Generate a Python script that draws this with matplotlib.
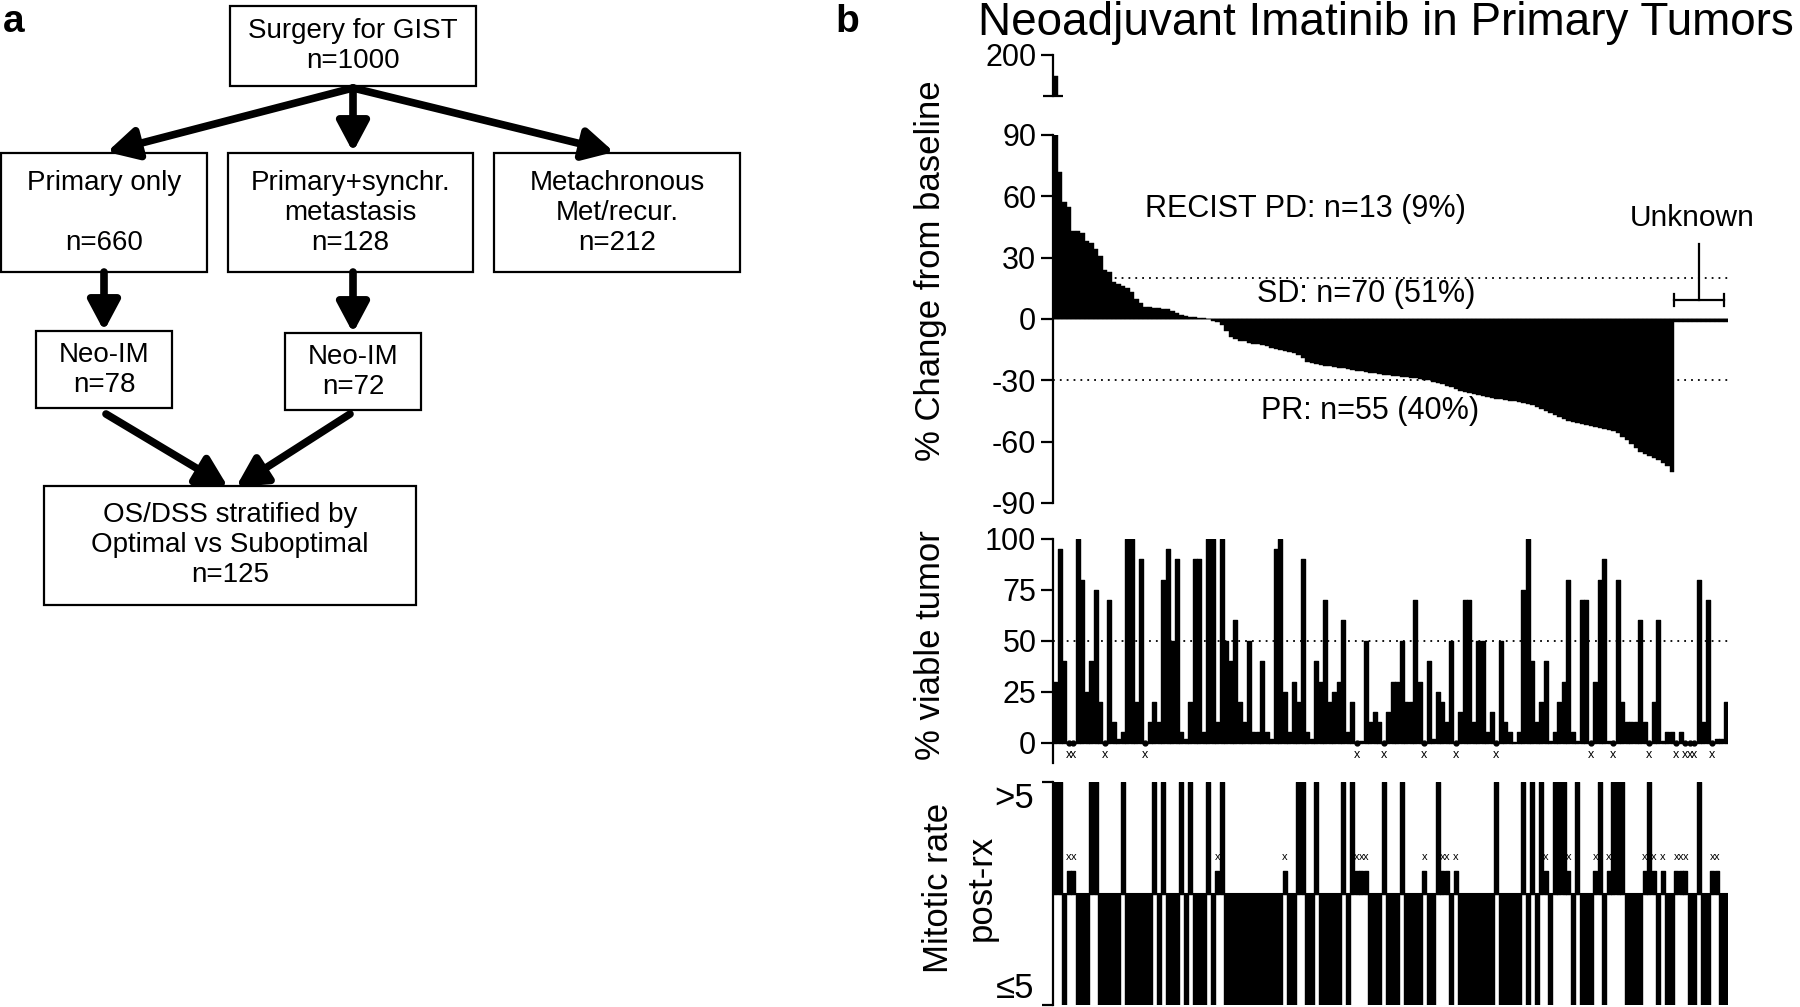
import matplotlib
matplotlib.use("Agg")
import matplotlib.pyplot as plt
from matplotlib.patches import Rectangle, FancyArrowPatch

plt.rcParams['font.family'] = ['Liberation Sans', 'DejaVu Sans']
plt.rcParams['axes.unicode_minus'] = False

W, H = 1800, 1007

# ---------------- data ----------------
# panel a flow chart
box_labels = ["Surgery for GIST\nn=1000",
              "Primary only\n\nn=660",
              "Primary+synchr.\nmetastasis\nn=128",
              "Metachronous\nMet/recur.\nn=212",
              "Neo-IM\nn=78",
              "Neo-IM\nn=72",
              "OS/DSS stratified by\nOptimal vs Suboptimal\nn=125"]

# panel b: % change from baseline, sorted (138 with RECIST, 12 unknown)
pct_change = [150, 72, 57, 55, 43, 43, 42, 38, 37, 34, 31, 24, 23,
              18, 17, 16, 15, 13, 10, 8, 6, 6, 5.5, 5.5, 5, 5, 4, 3, 2, 1.5, 1, 1, 0.5, 0.5, 0,
              -1, -1.5, -3, -6, -9, -10,
              -11, -11, -11.5, -12, -12, -12.5, -13,
              -14, -14.5, -15, -15.5, -16, -16.5, -17.5, -19,
              -21, -21.5, -22,
              -22.5, -23, -23, -23.5, -24, -24, -24.5, -25,
              -25.5, -25.5, -26, -26.5, -26.5, -27, -27.5, -27.5, -28, -28,
              -28.5, -28.5, -29, -29, -29.5, -29.8,
              -30, -31, -31.5, -32, -33, -33.5, -34, -35,
              -35.5, -36, -36.5, -37, -37.5, -38, -38.5,
              -39, -39, -39.5, -40, -40, -40.5, -41, -41.5,
              -42, -43, -44, -45, -46,
              -47, -48, -49, -50, -50.5, -51,
              -51.5, -52, -52.5, -53, -53.5, -54, -54.5, -55,
              -56, -57.5, -59, -61, -63, -65, -66, -67, -68,
              -69, -70.5, -72, -75]
unknown_change = [-1.5, -1.5, -1.5, -1.5, -1.5, -1.5, -1.5, -1.5, -1.5, -1.5, -1.5, -1.5]
response_labels = ["RECIST PD: n=13 (9%)", "SD: n=70 (51%)", "PR: n=55 (40%)"]

# % viable tumor (None = not assessed, marked with x)
viable = [30, 95, 40, None, None, 100, 80, 25, 40, 75,
          20, None, 70, 10, 2, 5, 100, 100, 20, 90,
          None, 10, 20, 10, 80, 95, 50, 90, 5, 2,
          20, 90, 90, 5, 100, 100, 10, 100, 50, 40,
          60, 20, 10, 50, 5, 5, 40, 5, 2, 95,
          100, 25, 5, 30, 20, 90, 5, 2, 40, 30,
          70, 20, 25, 30, 60, 5, 20, None, 1, 50,
          10, 15, 10, None, 15, 30, 30, 50, 20, 20,
          70, 30, None, 40, 2, 25, 20, 10, 50, None,
          15, 70, 70, 10, 50, 50, 5, 15, None, 50,
          10, 5, 0.5, 5, 75, 100, 40, 10, 20, 40,
          1, 5, 20, 30, 80, 5, 1, 70, 70, None,
          30, 80, 90, 1, None, 80, 20, 10, 10, 10,
          60, 10, None, 20, 60, 1, 5, 5, None, 5,
          None, None, None, 80, 10, 70, None, 2, 2, 20]

# mitotic rate post-rx: 1 = >5, -1 = <=5, 0 = unknown (x)
mitotic = [1, 1, -1, 0, 0, -1, -1, -1, 1, 1,
           -1, -1, -1, -1, -1, 1, -1, -1, -1, -1,
           -1, -1, 1, -1, 1, -1, -1, -1, 1, -1,
           1, -1, -1, -1, 1, -1, 0, 1, -1, -1,
           -1, -1, -1, -1, -1, -1, -1, -1, -1, -1,
           -1, 0, -1, -1, 1, 1, -1, -1, 1, -1,
           -1, -1, -1, -1, 1, -1, 1, 0, 0, 0,
           -1, -1, -1, 1, -1, -1, -1, 1, -1, -1,
           -1, -1, 0, -1, -1, 1, 0, 0, -1, 0,
           -1, -1, -1, -1, -1, -1, -1, -1, 1, -1,
           -1, -1, -1, -1, 1, -1, 1, -1, 1, 0,
           -1, 1, 1, 1, 0, -1, 1, -1, -1, -1,
           0, 1, -1, 0, 1, 1, 1, -1, -1, -1,
           -1, 0, 1, 0, -1, 0, -1, -1, 0, 0,
           0, -1, -1, 1, -1, -1, 0, 0, -1, -1]
mitotic_ticks = ['≤5', '>5']


def rect(x0, y0, x1, y1):
    return [x0 / W, 1 - y1 / H, (x1 - x0) / W, (y1 - y0) / H]


fig = plt.figure(figsize=(18, 10.07), dpi=100)

# ---------------- panel a ----------------
axa = fig.add_axes([0, 0, 1, 1])
axa.set_xlim(0, W)
axa.set_ylim(H, 0)
axa.axis('off')

boxes = [(230, 6, 476, 86), (1, 153, 207, 272), (228, 153, 473, 272),
         (494, 153, 740, 272), (36, 331, 172, 408), (285, 333, 421, 410),
         (44, 486, 416, 605)]
for (x0, y0, x1, y1), label in zip(boxes, box_labels):
    axa.add_patch(Rectangle((x0, y0), x1 - x0, y1 - y0, fill=False, lw=1.6, ec='black'))
    axa.text((x0 + x1) / 2, (y0 + y1) / 2, label, ha='center', va='center',
             fontsize=20, linespacing=1.2)

arrows = [((353, 88), (107, 152)), ((353, 88), (353, 152)), ((353, 88), (614, 152)),
          ((104, 272), (104, 331)), ((353, 272), (353, 333)),
          ((106, 414), (228, 487)), ((350, 414), (236, 487))]
for p0, p1 in arrows:
    axa.add_patch(FancyArrowPatch(p0, p1, arrowstyle='-|>,head_length=0.6,head_width=0.32',
                                  mutation_scale=30, lw=5.5, color='black',
                                  shrinkA=0, shrinkB=0))

fig.text(14 / W, 1 - 22 / H, 'a', fontsize=28, fontweight='bold', ha='center', va='center')
fig.text(847 / W, 1 - 22 / H, 'b', fontsize=28, fontweight='bold', ha='center', va='center')

# ---------------- panel b ----------------
all_change = pct_change + unknown_change
n_known = len(pct_change)
n = len(all_change)
idx = list(range(n))
dots = (0, (1, 2.8))

x_left, x_right = 1053, 1728

# waterfall, lower part
ax1 = fig.add_axes(rect(x_left, 135, x_right, 503))
ax1.axhline(0, color='0.6', lw=1.2, zorder=1)
ax1.axhline(20, color='black', lw=1.3, ls=dots, zorder=1)
ax1.axhline(-30, color='black', lw=1.3, ls=dots, zorder=1)
ax1.bar(idx, all_change, width=1.0, color='black', ec='black', lw=0.3, zorder=2)
ax1.set_xlim(-0.5, n - 0.5)
ax1.set_ylim(-90, 90)
ax1.set_yticks([-90, -60, -30, 0, 30, 60, 90])
for s in ['top', 'right', 'bottom']:
    ax1.spines[s].set_visible(False)
ax1.spines['left'].set_linewidth(1.6)
ax1.set_xticks([])
ax1.tick_params(axis='y', length=9, width=1.6, labelsize=22, pad=3)

ax1.text(55.5, 54, response_labels[0], ha='center', va='center', fontsize=22)
ax1.text(69, 12.2, response_labels[1], ha='center', va='center', fontsize=22)
ax1.text(70, -45, response_labels[2], ha='center', va='center', fontsize=22)

# unknown bracket
bx0, bx1 = n_known - 0.4, n - 1.3
bmid = (bx0 + bx1) / 2
ax1.plot([bx0, bx1], [9.3, 9.3], color='black', lw=1.6)
ax1.plot([bx0, bx0], [6.5, 12.3], color='black', lw=1.6)
ax1.plot([bx1, bx1], [6.5, 12.3], color='black', lw=1.6)
ax1.plot([bmid, bmid], [9.3, 36.5], color='black', lw=1.6)
ax1.text(bmid - 1.5, 49.5, 'Unknown', ha='center', va='center', fontsize=21.5)

# waterfall, upper (broken) part
ax0 = fig.add_axes(rect(x_left, 55, x_right, 96))
ax0.bar(idx, all_change, width=1.0, color='black', ec='black', lw=0.3)
ax0.set_xlim(-0.5, n - 0.5)
ax0.set_ylim(100, 200)
ax0.set_yticks([200])
ax0.set_yticks([100], minor=True)
for s in ['top', 'right', 'bottom']:
    ax0.spines[s].set_visible(False)
ax0.spines['left'].set_linewidth(1.6)
ax0.set_xticks([])
ax0.tick_params(axis='y', which='major', length=9, width=1.6, labelsize=22, pad=3)
ax0.tick_params(axis='y', which='minor', direction='inout', length=15, width=1.6)

fig.text(930 / W, 1 - 271 / H, '% Change from baseline', rotation=90,
         ha='center', va='center', fontsize=25)

# % viable tumor
ax2 = fig.add_axes(rect(x_left, 539, x_right, 763))
ax2.axhline(50, color='black', lw=1.3, ls=dots, zorder=1)
viable_vals = [v if v is not None else 0 for v in viable]
ax2.bar(idx, viable_vals, width=0.8, color='black', ec='black', lw=1.0,
        joinstyle='round', zorder=2)
ax2.hlines(0, -0.5, n - 0.5, color='black', lw=1.2, zorder=2)
for i, v in enumerate(viable):
    if v is None:
        ax2.plot(i, 0, 'o', color='black', ms=3.5, zorder=3)
        ax2.text(i, -6, 'x', ha='center', va='center', fontsize=9)
ax2.set_xlim(-0.5, n - 0.5)
ax2.set_ylim(-10, 100)
ax2.set_yticks([0, 25, 50, 75, 100])
for s in ['top', 'right', 'bottom']:
    ax2.spines[s].set_visible(False)
ax2.spines['left'].set_linewidth(1.6)
ax2.set_xticks([])
ax2.tick_params(axis='y', length=9, width=1.6, labelsize=22, pad=3)
fig.text(930 / W, 1 - 645 / H, '% viable tumor', rotation=90,
         ha='center', va='center', fontsize=25)

# mitotic rate post-rx
ax3 = fig.add_axes(rect(x_left, 782, x_right, 1005))
mit_h = [m if m != 0 else 0.2 for m in mitotic]
ax3.bar(idx, mit_h, width=0.8, color='black', ec='black', lw=1.0,
        joinstyle='round', zorder=2)
ax3.hlines(0, -0.5, n - 0.5, color='black', lw=1.5, zorder=2)
for i, m in enumerate(mitotic):
    if m == 0:
        ax3.text(i, 0.33, 'x', ha='center', va='center', fontsize=8)
ax3.set_xlim(-0.5, n - 0.5)
ax3.set_ylim(-1, 1)
ax3.set_yticks([-1, 1])
ax3.set_yticklabels([])
for s in ['top', 'right', 'bottom']:
    ax3.spines[s].set_visible(False)
ax3.spines['left'].set_linewidth(1.6)
ax3.set_xticks([])
ax3.tick_params(axis='y', length=8, width=1.6)
ytr = ax3.get_yaxis_transform()
ax3.text(-0.028, 1, mitotic_ticks[1], transform=ytr, ha='right', va='top',
         fontsize=25, rotation=0)
ax3.text(-0.028, -1, mitotic_ticks[0], transform=ytr, ha='right', va='bottom',
         fontsize=25, rotation=0)
fig.text(960 / W, 1 - 888 / H, 'Mitotic rate\npost-rx', rotation=90,
         ha='center', va='center', fontsize=25, linespacing=1.35)

fig.text(978 / W, 1 - 23 / H, 'Neoadjuvant Imatinib in Primary Tumors',
         ha='left', va='center', fontsize=33)

fig.savefig('out.png', dpi=100)
